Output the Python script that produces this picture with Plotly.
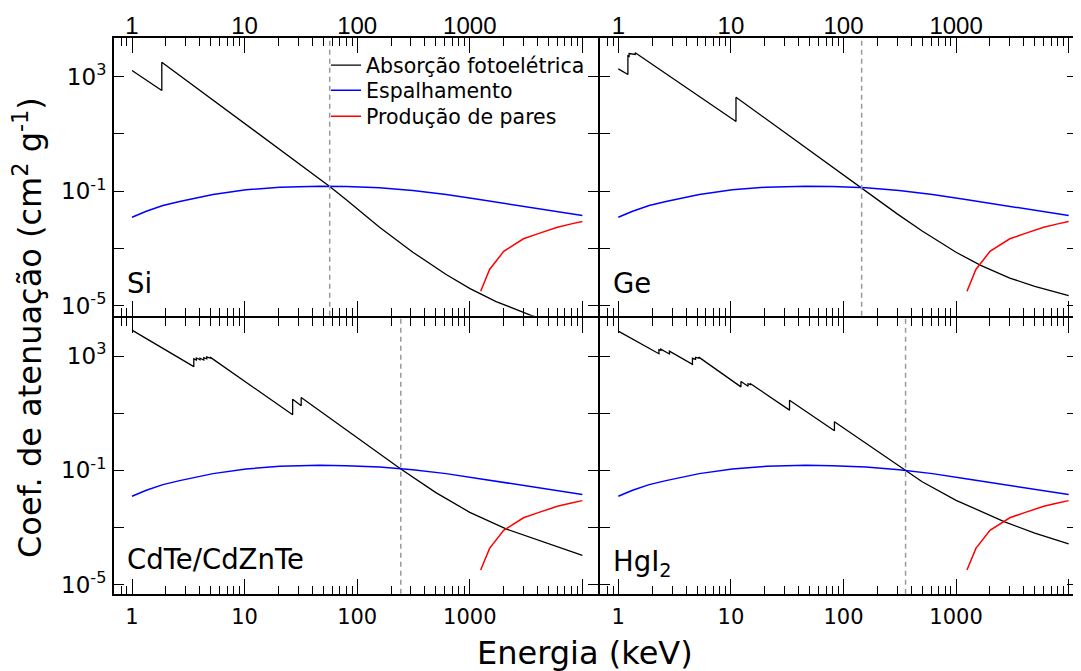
import plotly.graph_objects as go

# ---------------- data ----------------
# Photoelectric absorption (cm^2/g) vs energy (keV)
si_pe_E = [1, 1.839, 1.839, 5, 10, 20, 40, 57, 80, 158, 312, 617, 1006, 1713, 3500, 10000]
si_pe_mu = [1618, 325, 3162, 173, 22.9, 3.04, 0.404, 0.146, 0.0501, 0.00555, 7.45e-4, 1.24e-4,
            3.98e-5, 1.41e-5, 4.68e-6, 1.12e-6]

ge_pe_E = [1, 1.217, 1.217, 1.248, 1.248, 1.414, 1.414, 11.1, 11.1, 145, 200, 300, 500, 1000,
           1655, 3000, 5000, 10000]
ge_pe_mu = [1849, 1175, 5248, 5012, 6310, 5888, 6761, 26.9, 190, 0.127, 0.0513, 0.0162, 0.00407,
            7.41e-4, 2.57e-4, 9.33e-5, 4.79e-5, 2.29e-5]

cdte_pe_E = [1, 3.538, 3.538, 3.727, 3.727, 4.018, 4.018, 4.341, 4.341, 4.612, 4.612, 4.939, 4.939,
             26.71, 26.71, 31.81, 31.81, 244, 500, 1000, 2100, 5000, 10000]
cdte_pe_mu = [8072, 424.6, 794, 724, 851, 741, 832, 724, 871, 794, 933, 851, 912,
              8.75, 30.8, 18.0, 35.2, 0.111, 0.0166, 0.00339, 8.91e-4, 2.63e-4, 1.05e-4]

hgi2_pe_E = [1, 2.295, 2.295, 2.385, 2.385, 2.847, 2.847, 4.557, 4.557, 4.852, 4.852, 5.188, 5.188,
             12.28, 12.28, 14.21, 14.21, 14.84, 14.84, 33.17, 33.17, 83.1, 83.1, 355, 500, 1000,
             2700, 5000, 10000]
hgi2_pe_mu = [7447, 1202, 1660, 1585, 1738, 1175, 1479, 513, 832, 759, 891, 832, 912,
              83.0, 127.4, 87.1, 107.2, 100, 109.6, 12.74, 28.4, 2.42, 4.99, 0.0973, 0.0398, 0.00891,
              0.00158, 6.31e-4, 2.69e-4]

# Scattering (same curve in all panels)
scat_E = [1, 1.34, 1.88, 2.65, 5.24, 10.3, 20.5, 46.3, 80, 158, 312, 617, 1220, 2410, 4760, 10000]
scat_mu = [0.01239, 0.02004, 0.03162, 0.04365, 0.07656, 0.1114, 0.1380, 0.1493, 0.1455, 0.1306,
           0.1054, 0.07656, 0.05117, 0.03334, 0.02234, 0.01416]

# Pair production (same curve in all panels)
pair_E = [1250, 1500, 2000, 3000, 4000, 5000, 6000, 8000, 10000]
pair_mu = [3.24e-5, 1.86e-4, 7.94e-4, 2.19e-3, 3.24e-3, 4.47e-3, 5.50e-3, 7.24e-3, 8.71e-3]

materials = ["Si", "Ge", "CdTe/CdZnTe", "HgI<sub>2</sub>"]
crossover_E = [57, 145, 244, 356]

series_names = ["Absorção fotoelétrica", "Espalhamento", "Produção de pares"]
x_tick_vals = [1, 10, 100, 1000, 10000]
x_tick_text = ["1", "10", "100", "1000", ""]
y_tick_vals = [1e-5, 1e-3, 1e-1, 1e1, 1e3]
y_tick_text = ["10<sup>-5</sup>", "", "10<sup>-1</sup>", "", "10<sup>3</sup>"]

pe_data = [(si_pe_E, si_pe_mu), (ge_pe_E, ge_pe_mu), (cdte_pe_E, cdte_pe_mu), (hgi2_pe_E, hgi2_pe_mu)]

# ---------------- figure ----------------
# the page body has an 8px margin, so the figure is 8px smaller and shifted
OFF = 8
W, H = 1081 - OFF, 671 - OFF


def fx(px):
    return (px - OFF) / W


def fy(py):
    return 1 - (py - OFF) / H


fig = go.Figure()
legends = ["legend", "legend2", "legend3"]
for i, (pe_E, pe_mu) in enumerate(pe_data):
    ax = "" if i == 0 else str(i + 1)
    show = (i == 0)
    fig.add_trace(go.Scatter(x=pe_E, y=pe_mu, mode="lines", name=series_names[0],
                             line=dict(color="black", width=1.3), showlegend=show,
                             legend=legends[0], xaxis="x" + ax, yaxis="y" + ax))
    fig.add_trace(go.Scatter(x=scat_E, y=scat_mu, mode="lines", name=series_names[1],
                             line=dict(color="#0000ff", width=1.5), showlegend=show,
                             legend=legends[1], xaxis="x" + ax, yaxis="y" + ax))
    fig.add_trace(go.Scatter(x=pair_E, y=pair_mu, mode="lines", name=series_names[2],
                             line=dict(color="#ff0000", width=1.5), showlegend=show,
                             legend=legends[2], xaxis="x" + ax, yaxis="y" + ax))

minor_vals = []
for dec in [0.1, 1, 10, 100, 1000, 10000]:
    for k in range(2, 10):
        minor_vals.append(k * dec)

# pixel-derived domains (axis lines sit 1px outside the domain)
xl = [fx(114), fx(598)]
xr = [fx(600), fx(1077)]
yt = [fy(315.7), fy(38)]
yb = [fy(593.7), fy(317.7)]
x_ranges = {"l": [-0.160, 4.139], "r": [-0.1625, 4.074]}
y_ranges = {"t": [-5.343, 4.343], "b": [-5.317, 4.340]}

panels = [("l", "t"), ("r", "t"), ("l", "b"), ("r", "b")]
layout = {}
for i, (h, v) in enumerate(panels):
    ax = "" if i == 0 else str(i + 1)
    top = (v == "t")
    xfont = dict(family="Liberation Sans, Arial", size=24, color="black") if top else \
        dict(family="DejaVu Sans", size=21, color="black")
    layout["xaxis" + ax] = dict(
        type="log", domain=xl if h == "l" else xr, range=x_ranges[h],
        anchor="y" + ax, side="top" if top else "bottom", automargin=False,
        showline=True, linecolor="black", linewidth=2, mirror="ticks",
        ticks="inside", ticklen=15, tickwidth=1.3, tickcolor="black",
        tickmode="array", tickvals=x_tick_vals, ticktext=x_tick_text, tickfont=xfont,
        ticklabelstandoff=-8 if top else 3,
        minor=dict(tickmode="array", tickvals=minor_vals, ticks="inside", ticklen=8,
                   tickwidth=1.3, tickcolor="black", showgrid=False),
        showgrid=False, zeroline=False,
    )
    layout["yaxis" + ax] = dict(
        type="log", domain=yt if top else yb, range=y_ranges[v],
        anchor="x" + ax, automargin=False,
        showline=True, linecolor="black", linewidth=2, mirror="ticks",
        ticks="inside", ticklen=10, tickwidth=1.3, tickcolor="black",
        tickmode="array", tickvals=y_tick_vals, ticktext=y_tick_text,
        showticklabels=(h == "l"), ticklabelstandoff=1,
        tickfont=dict(family="DejaVu Sans", size=23, color="black"),
        showgrid=False, zeroline=False,
    )

shapes = []
for i, e in enumerate(crossover_E):
    ax = "" if i == 0 else str(i + 1)
    shapes.append(dict(type="line", xref="x" + ax, yref="y" + ax + " domain",
                       x0=e, x1=e, y0=0, y1=1,
                       line=dict(color="#999999", width=1.5, dash="5px,4px")))

annotations = []
label_y = [0.117, 0.117, 0.125, 0.125]
label_shift = [0, 0, 0, -4]
for i, name in enumerate(materials):
    ax = "" if i == 0 else str(i + 1)
    annotations.append(dict(text=name, xref="x" + ax + " domain", yref="y" + ax + " domain",
                            x=0.023, y=label_y[i], xanchor="left", yanchor="middle",
                            yshift=label_shift[i], showarrow=False,
                            font=dict(family="DejaVu Sans", size=27.5, color="black")))
annotations.append(dict(text="Energia (keV)", xref="paper", yref="paper",
                        x=fx(585), y=fy(653), xanchor="center", yanchor="middle",
                        showarrow=False, font=dict(family="DejaVu Sans", size=32, color="black")))
annotations.append(dict(text="Coef. de atenuação (cm<sup>2</sup> g<sup>-1</sup>)", xref="paper",
                        yref="paper", x=fx(28), y=fy(328), xanchor="center", yanchor="middle",
                        textangle=-90, showarrow=False,
                        font=dict(family="DejaVu Sans", size=32, color="black")))

leg_common = dict(xanchor="left", yanchor="middle", bgcolor="rgba(0,0,0,0)",
                  font=dict(family="DejaVu Sans", size=20.5, color="black"), itemwidth=30)
leg_y = [65.3, 90.3, 116.3]

fig.update_layout(
    width=W, height=H, margin=dict(l=0, r=0, t=0, b=0, autoexpand=False),
    paper_bgcolor="white", plot_bgcolor="rgba(0,0,0,0)",
    showlegend=True,
    legend=dict(x=fx(326), y=fy(leg_y[0]), **leg_common),
    legend2=dict(x=fx(326), y=fy(leg_y[1]), **leg_common),
    legend3=dict(x=fx(326), y=fy(leg_y[2]), **leg_common),
    shapes=shapes, annotations=annotations,
    **layout,
)

fig.write_html("out.html")
